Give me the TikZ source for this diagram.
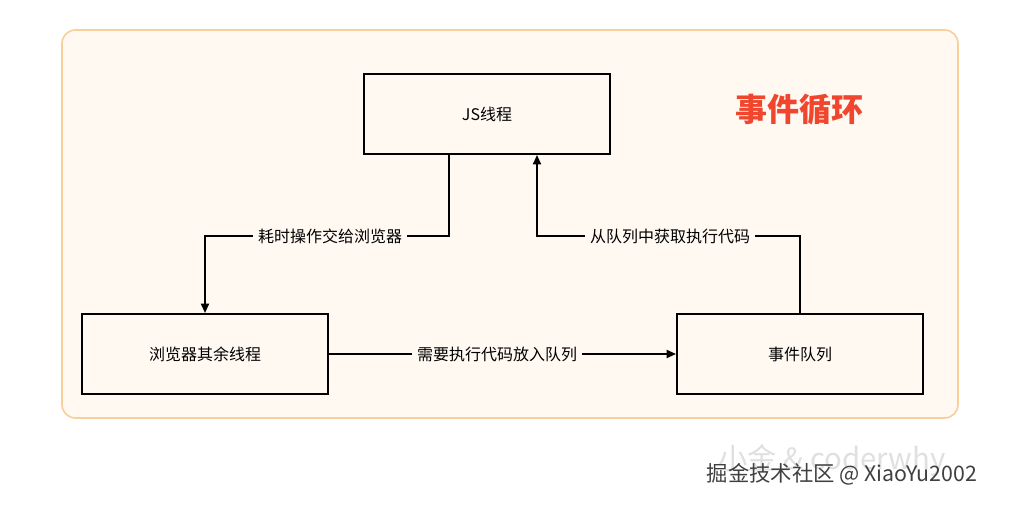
\documentclass[tikz,border=0pt]{standalone}
\usepackage{fontspec}
\setmainfont{Noto Sans CJK SC}
\usetikzlibrary{arrows.meta}
\definecolor{bg}{HTML}{FFF9F2}
\definecolor{bord}{HTML}{F9CE9A}
\definecolor{ttl}{HTML}{F0462E}
\begin{document}
\begin{tikzpicture}[x=0.75pt,y=-0.75pt,
  box/.style={draw=black,line width=1.5pt,minimum width=184.5pt,minimum height=60pt,font=\fontsize{12}{14}\selectfont},
  lbl/.style={fill=bg,inner sep=4pt,font=\fontsize{12}{14}\selectfont},
  conn/.style={line width=1.3pt},
  arr/.style={conn,-{Triangle[length=7pt,width=6pt]}}]
\useasboundingbox (0,0) rectangle (1021,505);
\fill[white] (0,0) rectangle (1021,505);
\draw[bord,fill=bg,line width=1.2pt,rounded corners=10pt] (62,30) rectangle (958,418);
\node[box] (js) at (487,114) {JS线程};
\node[box] (br) at (205,354) {浏览器其余线程};
\node[box] (q) at (800,354) {事件队列};
\node[text=ttl,font=\fontsize{24}{28}\selectfont\bfseries] (t) at (799,110) {事件循环};
\coordinate (a1) at (449,236);
\coordinate (a2) at (205,236);
\coordinate (b1) at (800,236);
\coordinate (b2) at (537,236);
\draw[arr] (js.south -| a1) -- (a1) -- (a2) -- (br.north);
\draw[arr] (q.north) -- (b1) -- (b2) -- (js.south -| b2);
\draw[arr] (br.east) -- (q.west);
\node[lbl] (l1) at (330,236) {耗时操作交给浏览器};
\node[lbl] (l2) at (670,236) {从队列中获取执行代码};
\node[lbl] (l3) at (497,354) {需要执行代码放入队列};
\node[text=black!12,font=\fontsize{22}{26}\selectfont] (w1) at (832,460) {小金 \& coderwhy};
\node[text=black!75,font=\fontsize{16}{19}\selectfont] (w2) at (842,474) {掘金技术社区 @ XiaoYu2002};
\end{tikzpicture}
\end{document}
